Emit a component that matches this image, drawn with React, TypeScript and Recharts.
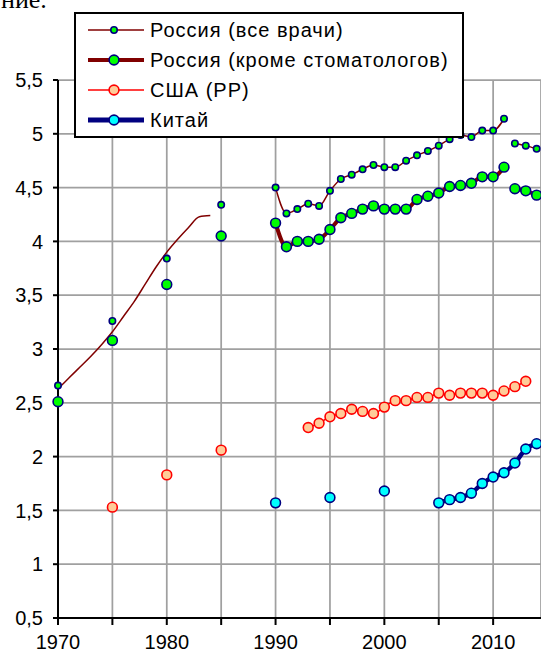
import React from 'react';
import { LineChart, Line, XAxis, YAxis, CartesianGrid, Legend } from 'recharts';

// ---- data ----
const ruCurveYears = [1970, 1971, 1972, 1973, 1974, 1975, 1976, 1977, 1978, 1979, 1980, 1981, 1982, 1983, 1984];
const ruCurveValues = [2.63, 2.73, 2.83, 2.93, 3.04, 3.16, 3.3, 3.44, 3.6, 3.76, 3.9, 4.02, 4.13, 4.23, 4.24];

const ruAllEarlyYears = [1970, 1975, 1980, 1985];
const ruAllEarlyValues = [2.66, 3.26, 3.84, 4.34];
const ruAllMainYears = [1990, 1991, 1992, 1993, 1994, 1995, 1996, 1997, 1998, 1999, 2000, 2001, 2002, 2003, 2004, 2005, 2006, 2007, 2008, 2009, 2010, 2011];
const ruAllMainValues = [4.5, 4.26, 4.3, 4.35, 4.33, 4.47, 4.58, 4.62, 4.67, 4.71, 4.69, 4.69, 4.75, 4.8, 4.84, 4.89, 4.95, 4.99, 4.97, 5.03, 5.03, 5.14];
const ruAllLateYears = [2012, 2013, 2014];
const ruAllLateValues = [4.91, 4.89, 4.86];

const ruExEarlyYears = [1970, 1975, 1980, 1985];
const ruExEarlyValues = [2.51, 3.08, 3.6, 4.05];
const ruExMainYears = [1990, 1991, 1992, 1993, 1994, 1995, 1996, 1997, 1998, 1999, 2000, 2001, 2002, 2003, 2004, 2005, 2006, 2007, 2008, 2009, 2010, 2011];
const ruExMainValues = [4.17, 3.95, 4.0, 4.0, 4.02, 4.11, 4.22, 4.26, 4.3, 4.33, 4.3, 4.3, 4.3, 4.39, 4.42, 4.45, 4.51, 4.52, 4.54, 4.6, 4.6, 4.69];
const ruExLateYears = [2012, 2013, 2014];
const ruExLateValues = [4.49, 4.47, 4.43];

const usEarlyYears = [1975, 1980, 1985];
const usEarlyValues = [1.53, 1.83, 2.06];
const usMainYears = [1993, 1994, 1995, 1996, 1997, 1998, 1999, 2000, 2001, 2002, 2003, 2004, 2005, 2006, 2007, 2008, 2009, 2010, 2011, 2012, 2013];
const usMainValues = [2.27, 2.31, 2.37, 2.4, 2.44, 2.42, 2.4, 2.46, 2.52, 2.52, 2.55, 2.55, 2.59, 2.57, 2.59, 2.59, 2.59, 2.57, 2.61, 2.65, 2.7];

const cnEarlyYears = [1990, 1995, 2000];
const cnEarlyValues = [1.57, 1.62, 1.68];
const cnMainYears = [2005, 2006, 2007, 2008, 2009, 2010, 2011, 2012, 2013, 2014];
const cnMainValues = [1.57, 1.6, 1.62, 1.66, 1.75, 1.81, 1.85, 1.94, 2.07, 2.12];

const xTicks = [1970, 1975, 1980, 1985, 1990, 1995, 2000, 2005, 2010];
const yTicks = [0.5, 1, 1.5, 2, 2.5, 3, 3.5, 4, 4.5, 5, 5.5];

const legendLabels = ['Россия (все врачи)', 'Россия (кроме стоматологов)', 'США (РР)', 'Китай'];

// ---- table ----
type Row = { year: number; [k: string]: number };

function buildTable(): Row[] {
  const map = new Map<number, Row>();
  const put = (key: string, years: number[], values: number[]) => {
    years.forEach((y, i) => {
      if (!map.has(y)) map.set(y, { year: y });
      (map.get(y) as Row)[key] = values[i];
    });
  };
  put('ruCurve', ruCurveYears, ruCurveValues);
  put('ruAllEarly', ruAllEarlyYears, ruAllEarlyValues);
  put('ruAllMain', ruAllMainYears, ruAllMainValues);
  put('ruAllLate', ruAllLateYears, ruAllLateValues);
  put('ruExEarly', ruExEarlyYears, ruExEarlyValues);
  put('ruExMain', ruExMainYears, ruExMainValues);
  put('ruExLate', ruExLateYears, ruExLateValues);
  put('usEarly', usEarlyYears, usEarlyValues);
  put('usMain', usMainYears, usMainValues);
  put('cnEarly', cnEarlyYears, cnEarlyValues);
  put('cnMain', cnMainYears, cnMainValues);
  return Array.from(map.values()).sort((a, b) => a.year - b.year);
}

const data = buildTable();

const FONT = '"Liberation Sans", Arial, sans-serif';
const DARKRED = '#800000';
const NAVY = '#000080';
const GREEN = '#00FF00';
const PEACH = '#FFCC99';
const RED = '#FF0000';
const CYAN = '#00FFFF';

const smallGreen = { r: 3.2, fill: GREEN, stroke: NAVY, strokeWidth: 1.6 };
const bigGreen = { r: 4.9, fill: GREEN, stroke: NAVY, strokeWidth: 1.6 };
const usDot = { r: 4.9, fill: PEACH, stroke: RED, strokeWidth: 1.6 };
const cnDot = { r: 4.9, fill: CYAN, stroke: NAVY, strokeWidth: 1.6 };

const legendStyles = [
  { line: DARKRED, lw: 1.5, dot: smallGreen },
  { line: DARKRED, lw: 4, dot: bigGreen },
  { line: RED, lw: 1.5, dot: usDot },
  { line: NAVY, lw: 5, dot: cnDot },
];

const renderLegend = () => (
  <div
    style={{
      width: 390,
      height: 126,
      boxSizing: 'border-box',
      border: '2px solid #000',
      background: '#fff',
      paddingTop: 1,
      fontFamily: FONT,
      fontSize: 20,
      color: '#000',
    }}
  >
    {legendLabels.map((label, i) => {
      const s = legendStyles[i];
      return (
        <div key={label} style={{ height: 30, display: 'flex', alignItems: 'center' }}>
          <svg width={56} height={20} style={{ marginLeft: 12, flex: 'none', display: 'block' }}>
            <line x1={0} y1={10} x2={56} y2={10} stroke={s.line} strokeWidth={s.lw} />
            <circle cx={26} cy={10} r={s.dot.r} fill={s.dot.fill} stroke={s.dot.stroke} strokeWidth={s.dot.strokeWidth} />
          </svg>
          <span style={{ marginLeft: 6, letterSpacing: 1, whiteSpace: 'nowrap', lineHeight: '20px' }}>{label}</span>
        </div>
      );
    })}
  </div>
);

const fmtY = (v: number) => String(v).replace('.', ',');
const fmtX = (v: number) => (v % 10 === 0 ? String(v) : '');

export default function App() {
  return (
    <div style={{ position: 'absolute', left: 0, top: 0, width: 541, height: 652, overflow: 'hidden', background: '#fff' }}>
      <div
        style={{
          position: 'absolute',
          left: 1,
          top: -13,
          fontFamily: '"Liberation Serif", "Times New Roman", serif',
          fontSize: 26,
          lineHeight: '26px',
          color: '#000',
        }}
      >
        ние.
      </div>
      <LineChart width={541} height={652} data={data} margin={{ top: 80, right: 0, bottom: 4, left: 0 }}>
        <CartesianGrid stroke="#A0A0A0" strokeWidth={1.75} />
        <XAxis
          dataKey="year"
          type="number"
          domain={[1970, 2014.4]}
          ticks={xTicks}
          tickFormatter={fmtX}
          height={30}
          tickSize={7}
          tickMargin={10}
          interval={0}
          axisLine={{ stroke: '#000', strokeWidth: 2 }}
          tickLine={{ stroke: '#000', strokeWidth: 2 }}
          tick={{ fontSize: 20, fill: '#000', fontFamily: FONT }}
        />
        <YAxis
          type="number"
          domain={[0.5, 5.5]}
          ticks={yTicks}
          tickFormatter={fmtY}
          width={58}
          tickSize={5}
          tickMargin={10}
          interval={0}
          axisLine={{ stroke: '#000', strokeWidth: 2 }}
          tickLine={{ stroke: '#000', strokeWidth: 2 }}
          tick={{ fontSize: 20, fill: '#000', fontFamily: FONT }}
        />
        <Legend content={renderLegend} layout="vertical" align="center" verticalAlign="middle" wrapperStyle={{ left: 74, top: 12, width: 390, height: 126 }} />

        <Line dataKey="ruCurve" type="monotone" stroke={DARKRED} strokeWidth={1.5} dot={false} isAnimationActive={false} legendType="none" />

        <Line dataKey="cnMain" type="monotone" stroke={NAVY} strokeWidth={4.5} dot={cnDot} isAnimationActive={false} legendType="none" />
        <Line dataKey="cnEarly" stroke="none" dot={cnDot} isAnimationActive={false} legendType="none" />

        <Line dataKey="usMain" type="monotone" stroke={RED} strokeWidth={1.5} dot={usDot} isAnimationActive={false} legendType="none" />
        <Line dataKey="usEarly" stroke="none" dot={usDot} isAnimationActive={false} legendType="none" />

        <Line dataKey="ruExMain" type="monotone" stroke={DARKRED} strokeWidth={4} dot={bigGreen} isAnimationActive={false} legendType="none" />
        <Line dataKey="ruExLate" type="monotone" stroke={DARKRED} strokeWidth={4} dot={bigGreen} isAnimationActive={false} legendType="none" />
        <Line dataKey="ruExEarly" stroke="none" dot={bigGreen} isAnimationActive={false} legendType="none" />

        <Line dataKey="ruAllMain" type="monotone" stroke={DARKRED} strokeWidth={1.5} dot={smallGreen} isAnimationActive={false} legendType="none" />
        <Line dataKey="ruAllLate" type="monotone" stroke={DARKRED} strokeWidth={1.5} dot={smallGreen} isAnimationActive={false} legendType="none" />
        <Line dataKey="ruAllEarly" stroke="none" dot={smallGreen} isAnimationActive={false} legendType="none" />
      </LineChart>
    </div>
  );
}
